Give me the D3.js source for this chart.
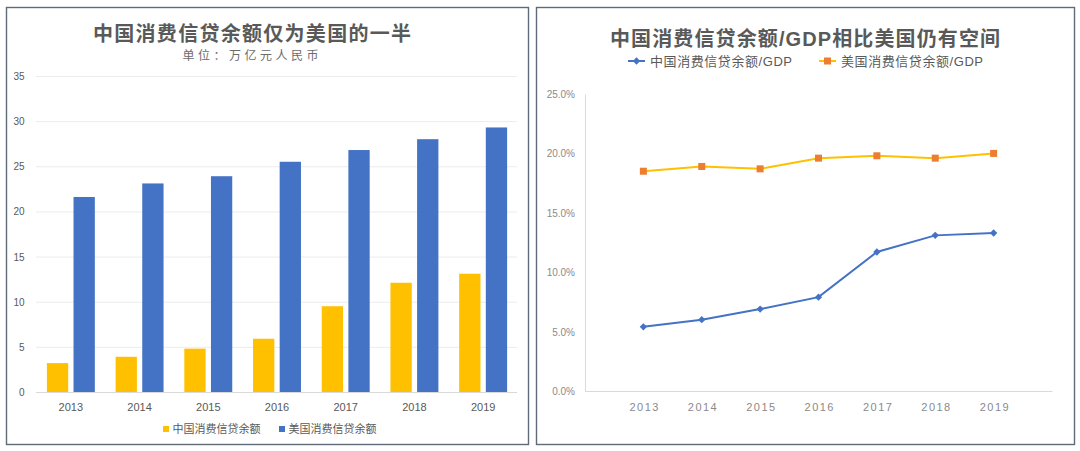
<!DOCTYPE html>
<html>
<head>
<meta charset="utf-8">
<script src="https://cdn.jsdelivr.net/npm/d3@7/dist/d3.min.js"></script>
<style>
  html, body { margin: 0; padding: 0; background: #ffffff; }
  svg { display: block; font-family: "Liberation Sans", Arial, "Noto Sans CJK SC", sans-serif; }
</style>
</head>
<body>
<svg id="chart" width="1080" height="451"></svg>
<script>
// ---------- data ----------
const years = ["2013", "2014", "2015", "2016", "2017", "2018", "2019"];
const chinaCredit = [3.2, 3.9, 4.8, 5.9, 9.5, 12.1, 13.1];      // 万亿元人民币
const usCredit = [21.6, 23.1, 23.9, 25.5, 26.8, 28.0, 29.3];     // 万亿元人民币
const leftTicks = [0, 5, 10, 15, 20, 25, 30, 35];
const chinaRatio = [0.054, 0.060, 0.069, 0.079, 0.117, 0.131, 0.133];
const usRatio = [0.185, 0.189, 0.187, 0.196, 0.198, 0.196, 0.200];
const rightTicks = [0, 0.05, 0.10, 0.15, 0.20, 0.25];
const seriesLeft = ["中国消费信贷余额", "美国消费信贷余额"];
const seriesRight = ["中国消费信贷余额/GDP", "美国消费信贷余额/GDP"];
const leftTitle = "中国消费信贷余额仅为美国的一半";
const leftSubtitle = "单位：万亿元人民币";
const rightTitle = "中国消费信贷余额/GDP相比美国仍有空间";

const YELLOW = "#FFC000", BLUE = "#4472C4", ORANGE = "#ED7D31";
const svg = d3.select("#chart");

// panel borders
svg.append("rect").attr("x", 6.5).attr("y", 7.5).attr("width", 522).attr("height", 437)
  .attr("fill", "#fff").attr("stroke", "#5f6b78").attr("stroke-width", 1.4);
svg.append("rect").attr("x", 536.5).attr("y", 7.5).attr("width", 538).attr("height", 437)
  .attr("fill", "#fff").attr("stroke", "#5f6b78").attr("stroke-width", 1.4);

// ---------- left chart ----------
const L = svg.append("g");
const x0 = d3.scaleBand().domain(years).range([36.5, 517.5]).paddingInner(0).paddingOuter(0);
const x1 = d3.scaleBand().domain(seriesLeft).range([0, x0.bandwidth()]).paddingInner(0.2).paddingOuter(0.39);
const yL = d3.scaleLinear().domain([0, 35]).range([392, 76]);

const yAxisL = L.append("g").attr("transform", "translate(36,0)")
  .call(d3.axisLeft(yL).tickValues(leftTicks).tickSize(-481).tickPadding(11.5).tickFormat(d3.format("d")));
yAxisL.select(".domain").remove();
yAxisL.selectAll("line").attr("stroke", d => d === 0 ? "#d9d9d9" : "#ececec").attr("stroke-width", 1);
yAxisL.selectAll("text").attr("fill", "#595959").attr("font-size", 10).attr("dy", null)
  .attr("dominant-baseline", "central");

const xAxisL = L.append("g").attr("transform", "translate(0,392)")
  .call(d3.axisBottom(x0).tickSize(0));
xAxisL.select(".domain").remove();
xAxisL.selectAll("text").attr("fill", "#595959").attr("font-size", 11).attr("dy", null)
  .attr("y", 14.7).attr("dominant-baseline", "central");

const barData = [];
years.forEach((yr, i) => {
  barData.push({ year: yr, s: seriesLeft[0], v: chinaCredit[i], c: YELLOW });
  barData.push({ year: yr, s: seriesLeft[1], v: usCredit[i], c: BLUE });
});
L.append("g").selectAll("rect").data(barData).join("rect")
  .attr("x", d => x0(d.year) + x1(d.s))
  .attr("width", x1.bandwidth())
  .attr("y", d => yL(d.v))
  .attr("height", d => yL(0) - yL(d.v))
  .attr("fill", d => d.c);

// titles
svg.append("text").attr("x", 252).attr("y", 34).attr("text-anchor", "middle")
  .attr("dominant-baseline", "central").attr("font-size", 20).attr("font-weight", "bold")
  .attr("textLength", 318).attr("lengthAdjust", "spacing").attr("fill", "#595959").text(leftTitle);
svg.append("text").attr("x", 250.5).attr("y", 55.5).attr("text-anchor", "middle")
  .attr("dominant-baseline", "central").attr("font-size", 12)
  .attr("textLength", 136).attr("lengthAdjust", "spacing").attr("fill", "#6b6b6b").text(leftSubtitle);

// left legend
const legL = [{ x: 163, c: YELLOW, t: seriesLeft[0] }, { x: 279, c: BLUE, t: seriesLeft[1] }];
legL.forEach(d => {
  svg.append("rect").attr("x", d.x).attr("y", 426).attr("width", 6).attr("height", 6).attr("fill", d.c);
  svg.append("text").attr("x", d.x + 9.5).attr("y", 429).attr("dominant-baseline", "central")
    .attr("font-size", 11).attr("fill", "#595959").text(d.t);
});

// ---------- right chart ----------
const R = svg.append("g");
const xR = d3.scalePoint().domain(years).range([585, 1052]).padding(1);
const yR = d3.scaleLinear().domain([0, 0.25]).range([391, 94]);

const yAxisR = R.append("g").attr("transform", "translate(585,0)")
  .call(d3.axisLeft(yR).tickValues(rightTicks).tickSize(0).tickPadding(10).tickFormat(d3.format(".1%")));
yAxisR.select(".domain").attr("stroke", "#d9d9d9");
yAxisR.selectAll("text").attr("fill", "#8a8a8a").attr("font-size", 10).attr("dy", null)
  .attr("dominant-baseline", "central");

const xAxisR = R.append("g").attr("transform", "translate(0,391)")
  .call(d3.axisBottom(xR).tickSize(0));
xAxisR.select(".domain").attr("stroke", "#d9d9d9");
xAxisR.selectAll("text").attr("fill", "#8a8a8a").attr("font-size", 11).attr("letter-spacing", 1.5)
  .attr("dx", 0.75).attr("dy", null).attr("y", 15.7).attr("dominant-baseline", "central");

const line = d3.line().x((d, i) => xR(years[i])).y(d => yR(d));
R.append("path").datum(usRatio).attr("d", line).attr("fill", "none").attr("stroke", YELLOW).attr("stroke-width", 2);
R.append("path").datum(chinaRatio).attr("d", line).attr("fill", "none").attr("stroke", BLUE).attr("stroke-width", 2);

const sq = 7;
R.append("g").selectAll("rect").data(usRatio).join("rect")
  .attr("x", (d, i) => xR(years[i]) - sq / 2).attr("y", d => yR(d) - sq / 2)
  .attr("width", sq).attr("height", sq).attr("fill", ORANGE);
const diamond = d3.symbol().type(d3.symbolDiamond2).size(34);
R.append("g").selectAll("path").data(chinaRatio).join("path")
  .attr("transform", (d, i) => `translate(${xR(years[i])},${yR(d)})`)
  .attr("d", diamond).attr("fill", BLUE);

svg.append("text").attr("x", 805).attr("y", 38.5).attr("text-anchor", "middle")
  .attr("dominant-baseline", "central").attr("font-size", 20).attr("font-weight", "bold")
  .attr("textLength", 390).attr("lengthAdjust", "spacing").attr("fill", "#595959").text(rightTitle);

// right legend
const legR = [
  { x: 628, c: BLUE, m: "diamond", t: seriesRight[0] },
  { x: 819, c: YELLOW, mc: ORANGE, m: "square", t: seriesRight[1] }
];
legR.forEach(d => {
  svg.append("line").attr("x1", d.x).attr("x2", d.x + 17).attr("y1", 61).attr("y2", 61)
    .attr("stroke", d.c).attr("stroke-width", 2);
  if (d.m === "diamond") {
    svg.append("path").attr("transform", `translate(${d.x + 8.5},61)`).attr("d", diamond).attr("fill", d.c);
  } else {
    svg.append("rect").attr("x", d.x + 8.5 - sq / 2).attr("y", 61 - sq / 2).attr("width", sq).attr("height", sq).attr("fill", d.mc);
  }
  svg.append("text").attr("x", d.x + 22).attr("y", 61).attr("dominant-baseline", "central")
    .attr("font-size", 13).attr("textLength", 142).attr("lengthAdjust", "spacing")
    .attr("fill", "#595959").text(d.t);
});
</script>
</body>
</html>
